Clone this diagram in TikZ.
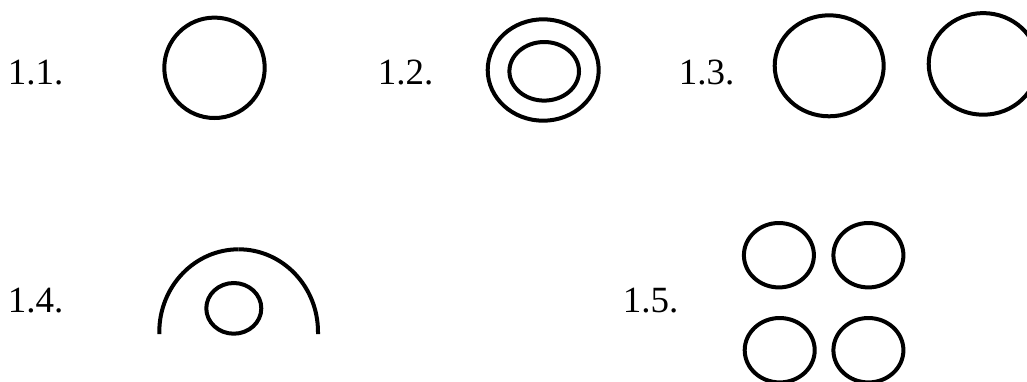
\documentclass[tikz,border=0pt]{standalone}
\usepackage{fontspec}
\setmainfont{Liberation Serif}
\begin{document}
\begin{tikzpicture}[x=1pt,y=-1pt,
  lbl/.style={anchor=base west,inner sep=0pt,font=\fontsize{37}{40}\selectfont},
  ln/.style={line width=4pt,black}]
\useasboundingbox (0,0) rectangle (1027,381);
% labels
\node[lbl] (l1) at (7.7,84) {1.1.};
\node[lbl] (l2) at (377.7,84.3) {1.2.};
\node[lbl] (l3) at (678.7,84) {1.3.};
\node[lbl] (l4) at (7.7,312.7) {1.4.};
\node[lbl] (l5) at (622.7,312.3) {1.5.};
% 1.1
\draw[ln] (214.5,67.8) ellipse [x radius=50.2pt, y radius=50.2pt];
% 1.2
\draw[ln] (543.2,70) ellipse [x radius=55.5pt, y radius=50.7pt];
\draw[ln] (544.2,71.3) ellipse [x radius=34.8pt, y radius=29.3pt];
% 1.3
\draw[ln] (829.2,65.8) ellipse [x radius=54.5pt, y radius=50.5pt];
\draw[ln] (983.2,63.9) ellipse [x radius=54.5pt, y radius=50.8pt];
% 1.4
\draw[ln] (159.3,334) -- (159.3,332) arc [start angle=180, end angle=90, x radius=79.35pt, y radius=82.7pt];
\draw[ln] (318,334) -- (318,332) arc [start angle=0, end angle=90, x radius=79.35pt, y radius=82.7pt];
\draw[ln] (233.8,308.35) ellipse [x radius=27.5pt, y radius=25.35pt];
% 1.5
\draw[ln] (778.9,255.2) ellipse [x radius=35pt, y radius=32.2pt];
\draw[ln] (868.4,255.2) ellipse [x radius=35pt, y radius=32.2pt];
\draw[ln] (779.7,350.2) ellipse [x radius=35pt, y radius=32.2pt];
\draw[ln] (868.4,350.2) ellipse [x radius=35pt, y radius=32.2pt];
\end{tikzpicture}
\end{document}
